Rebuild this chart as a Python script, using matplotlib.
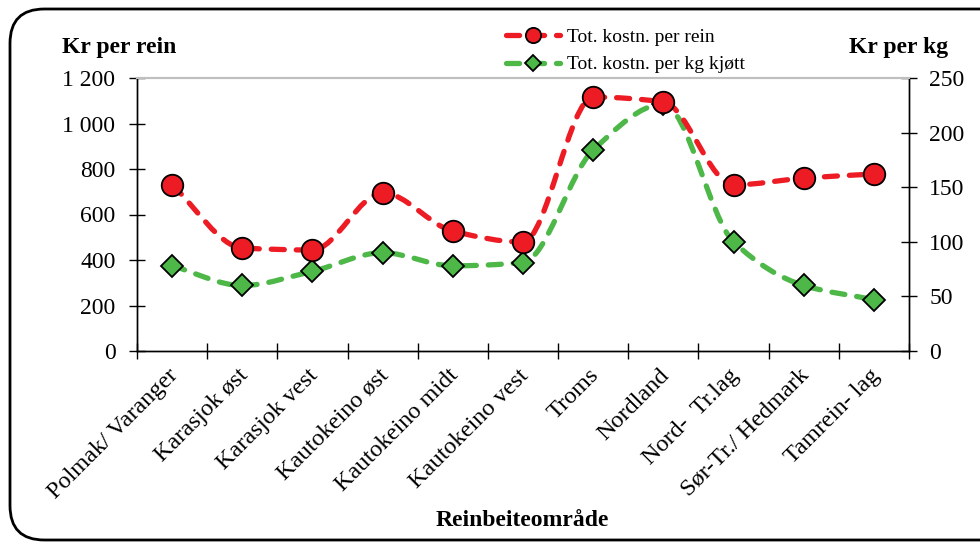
import numpy as np
import matplotlib
matplotlib.use("Agg")
import matplotlib.pyplot as plt
from matplotlib.path import Path
from matplotlib.patches import PathPatch, FancyBboxPatch
from matplotlib.lines import Line2D
from matplotlib.ticker import FuncFormatter, FixedLocator
from matplotlib.transforms import ScaledTranslation

plt.rcParams['font.family'] = ['Liberation Serif', 'DejaVu Serif']
plt.rcParams['lines.scale_dashes'] = False

categories = ["Polmak/ Varanger", "Karasjok øst", "Karasjok vest", "Kautokeino øst",
              "Kautokeino midt", "Kautokeino vest", "Troms", "Nordland",
              "Nord-  Tr.lag", "Sør-Tr./ Hedmark", "Tamrein- lag"]
kr_per_rein = [730, 453, 444, 695, 527, 479, 1116, 1095, 730, 760, 778]
kr_per_kg = [78, 60, 73, 90, 78, 81, 184, 226, 100, 60, 47]
left_ticks = [0, 200, 400, 600, 800, 1000, 1200]
right_ticks = [0, 50, 100, 150, 200, 250]

RED = "#ED1C24"
GREEN = "#4DB848"
DASH = (0, (9.4, 8.6))


def smooth_path(xs, ys):
    """Smooth (monotone-limited) cubic Bezier path through the data points."""
    xs = np.asarray(xs, float)
    ys = np.asarray(ys, float)
    n = len(xs)
    d = np.diff(ys) / np.diff(xs)
    m = np.zeros(n)
    m[0] = d[0]
    m[-1] = d[-1]
    for i in range(1, n - 1):
        if d[i - 1] * d[i] <= 0:
            m[i] = 0.0
        else:
            m[i] = 2.0 / (1.0 / d[i - 1] + 1.0 / d[i])
    verts = [(xs[0], ys[0])]
    codes = [Path.MOVETO]
    for i in range(n - 1):
        h = xs[i + 1] - xs[i]
        verts += [(xs[i] + h / 3, ys[i] + m[i] * h / 3),
                  (xs[i + 1] - h / 3, ys[i + 1] - m[i + 1] * h / 3),
                  (xs[i + 1], ys[i + 1])]
        codes += [Path.CURVE4] * 3
    return Path(verts, codes)


fig = plt.figure(figsize=(9.8, 5.42), dpi=100)
ax = fig.add_axes([137 / 980, (542 - 351) / 542, (909 - 137) / 980, (351 - 78) / 542])
ax2 = ax.twinx()

x = np.arange(len(categories))

ax.set_xlim(-0.5, len(categories) - 0.5)
ax.set_ylim(0, 1200)
ax2.set_ylim(0, 250)

# lines
ax2.add_patch(PathPatch(smooth_path(x, kr_per_kg), fill=False, edgecolor=GREEN, lw=3.8,
                        linestyle=DASH, capstyle='round', zorder=2))
ax.add_patch(PathPatch(smooth_path(x, kr_per_rein), fill=False, edgecolor=RED, lw=3.8,
                       linestyle=DASH, capstyle='round', zorder=2))
ax.plot(x, kr_per_rein, linestyle='none', marker='o', ms=15.5, mfc=RED, mec='black',
        mew=1.3, zorder=3)
ax2.plot(x, kr_per_kg, linestyle='none', marker='D', ms=11, mfc=GREEN, mec='black',
         mew=1.3, zorder=3)
ax.set_zorder(ax2.get_zorder() + 1)
ax.patch.set_visible(False)

# axes styling
for a in (ax, ax2):
    for s in a.spines.values():
        s.set_linewidth(1.0)
        s.set_color('black')
    a.spines['top'].set_color('#BFBFBF')
    a.spines['top'].set_linewidth(1.5)

fmt = FuncFormatter(lambda v, p: f"{int(v):,}".replace(",", " "))
ax.yaxis.set_major_locator(FixedLocator(left_ticks))
ax.yaxis.set_major_formatter(fmt)
ax2.yaxis.set_major_locator(FixedLocator(right_ticks))
ax.tick_params(axis='y', direction='inout', length=11, width=1, labelsize=17, pad=10)
ax2.tick_params(axis='y', direction='inout', length=11, width=1, labelsize=17, pad=9)

ax.set_xticks(x)
ax.set_xticklabels(categories, rotation=45, ha='right', va='top',
                   rotation_mode='anchor', fontsize=17.5)
ax.tick_params(axis='x', which='major', length=0, pad=10)
shift = ScaledTranslation(-5 / 100, 0, fig.dpi_scale_trans)
for lbl in ax.get_xticklabels():
    lbl.set_transform(lbl.get_transform() + shift)
ax.xaxis.set_minor_locator(FixedLocator(np.arange(-0.5, len(categories), 1.0)))
ax.tick_params(axis='x', which='minor', direction='inout', length=11, width=1)

# texts
fig.text(62 / 980, 1 - 47 / 542, "Kr per rein", fontsize=17, fontweight='bold',
         ha='left', va='center')
fig.text(948 / 980, 1 - 47 / 542, "Kr per kg", fontsize=17, fontweight='bold',
         ha='right', va='center')
fig.text(522 / 980, 1 - 520 / 542, "Reinbeiteområde", fontsize=17, fontweight='bold',
         ha='center', va='center')

# legend
h1 = Line2D([], [], color=RED, lw=3.8, linestyle=DASH, dash_capstyle='round',
            marker='o', ms=11, mfc=RED, mec='black', mew=1.3)
h2 = Line2D([], [], color=GREEN, lw=3.8, linestyle=DASH, dash_capstyle='round',
            marker='D', ms=8, mfc=GREEN, mec='black', mew=1.3)
fig.legend([h1, h2], ["Tot. kostn. per rein", "Tot. kostn. per kg kjøtt"],
           loc='center left', bbox_to_anchor=(496 / 980, 1 - 51 / 542),
           frameon=False, fontsize=14, handlelength=2.8, handletextpad=0.35,
           labelspacing=0.5, borderpad=0, numpoints=1)

# outer rounded border
border = FancyBboxPatch((10 / 980, 2 / 542), 1.05, 531 / 542,
                        boxstyle="round,pad=0,rounding_size=0.035",
                        transform=fig.transFigure, fill=False, edgecolor='black',
                        lw=2.0, mutation_aspect=980 / 542, clip_on=False)
fig.patches.append(border)

fig.savefig("out.png", dpi=100)
